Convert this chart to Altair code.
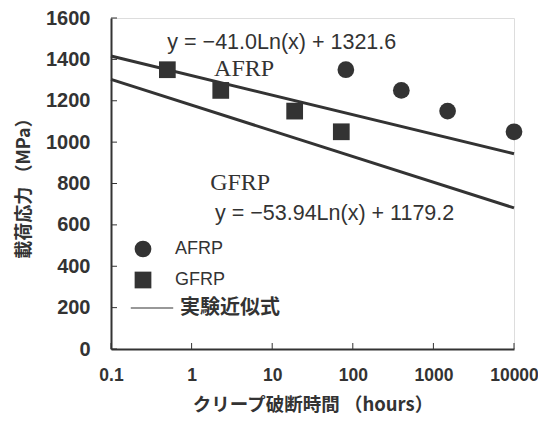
import altair as alt
import pandas as pd

# Data
afrp_hours = [82, 400, 1500, 10000]
afrp_stress = [1350, 1250, 1150, 1050]
gfrp_hours = [0.5, 2.3, 19, 72]
gfrp_stress = [1350, 1250, 1150, 1050]

line_hours = [0.1, 10000]
afrp_fit = [1416, 944]
gfrp_fit = [1303, 682]

x_ticks = [0.1, 1, 10, 100, 1000, 10000]
y_ticks = [0, 200, 400, 600, 800, 1000, 1200, 1400, 1600]

INK = "#333333"

pts = pd.DataFrame({
    "hours": afrp_hours + gfrp_hours,
    "stress": afrp_stress + gfrp_stress,
    "series": ["AFRP"] * len(afrp_hours) + ["GFRP"] * len(gfrp_hours),
})
lines = pd.DataFrame({
    "hours": line_hours + line_hours,
    "stress": afrp_fit + gfrp_fit,
    "fit": ["AFRP"] * 2 + ["GFRP"] * 2,
    "legend": ["実験近似式"] * 4,
})

x_scale = alt.Scale(type="log", domain=[0.1, 10000], nice=False)
y_scale = alt.Scale(domain=[0, 1600], nice=False)

x_axis = alt.Axis(values=x_ticks, grid=False, tickSize=0, labelFontSize=17.5,
                  labelFont="Liberation Sans", labelFontWeight="bold", labelColor=INK,
                  labelPadding=17, labelExpr="datum.value < 1 ? '0.1' : format(datum.value, 'd')",
                  title="クリープ破断時間 （hours）", titleFont="Noto Sans CJK JP",
                  titleFontSize=18.5, titleFontWeight="bold", titleColor=INK, titlePadding=12,
                  domainColor=INK, domainWidth=2, labelFlush=False)
y_axis = alt.Axis(values=y_ticks, grid=False, tickSize=0, labelFontSize=20, format="d",
                  labelFont="Liberation Sans", labelFontWeight="bold", labelColor=INK,
                  labelPadding=21, title="載荷応力 （MPa）", titleFont="Noto Sans CJK JP",
                  titleFontSize=18, titleFontWeight="bold", titleColor=INK, titlePadding=12,
                  domainColor=INK, domainWidth=2, labelFlush=False)

base_x = alt.X("hours:Q", scale=x_scale, axis=x_axis)
base_y = alt.Y("stress:Q", scale=y_scale, axis=y_axis)

line_layer = alt.Chart(lines).mark_line(strokeWidth=3).encode(
    x=base_x, y=base_y, detail="fit:N",
    color=alt.Color("legend:N", scale=alt.Scale(range=[INK]),
                    legend=alt.Legend(title=None, orient="none", legendX=19, legendY=268,
                                      symbolType="stroke", symbolSize=1800, symbolStrokeWidth=1.2,
                                      labelFont="Noto Sans CJK JP", labelFontSize=20,
                                      labelFontWeight="bold", labelColor=INK, labelOffset=6)),
)

point_layer = alt.Chart(pts).mark_point(filled=True, size=280, opacity=1, color=INK).encode(
    x=alt.X("hours:Q", scale=x_scale),
    y=alt.Y("stress:Q", scale=y_scale),
    shape=alt.Shape("series:N", scale=alt.Scale(domain=["AFRP", "GFRP"], range=["circle", "square"]),
                    legend=alt.Legend(title=None, orient="none", legendX=23, legendY=222,
                                      symbolSize=280, symbolFillColor=INK, symbolStrokeWidth=0,
                                      symbolOpacity=1, rowPadding=13,
                                      labelFont="Liberation Sans", labelFontSize=18,
                                      labelColor=INK, labelOffset=23)),
)

# inward tick marks
ytick_df = pd.DataFrame({"stress": y_ticks})
xtick_df = pd.DataFrame({"hours": x_ticks})
ytick_layer = alt.Chart(ytick_df).mark_rule(color=INK, strokeWidth=1).encode(
    y=alt.Y("stress:Q", scale=y_scale), x=alt.value(0), x2=alt.value(6))
xtick_layer = alt.Chart(xtick_df).mark_rule(color=INK, strokeWidth=1).encode(
    x=alt.X("hours:Q", scale=x_scale), y=alt.value(331), y2=alt.value(325))

# annotations
eq_texts = ["y = −41.0Ln(x) + 1321.6", "y = −53.94Ln(x) + 1179.2"]
eq_hours = [0.5, 1.95]
eq_stress = [1478, 653]
name_texts = ["AFRP", "GFRP"]
name_hours = [1.9, 1.7]
name_stress = [1355, 802]

eq_layer = alt.Chart(pd.DataFrame({"hours": eq_hours, "stress": eq_stress, "t": eq_texts})).mark_text(
    align="left", baseline="middle", font="Liberation Sans", fontSize=21.5, color=INK
).encode(x=alt.X("hours:Q", scale=x_scale), y=alt.Y("stress:Q", scale=y_scale), text="t:N")
name_layer = alt.Chart(pd.DataFrame({"hours": name_hours, "stress": name_stress, "t": name_texts})).mark_text(
    align="left", baseline="middle", font="Liberation Serif", fontSize=24, color=INK
).encode(x=alt.X("hours:Q", scale=x_scale), y=alt.Y("stress:Q", scale=y_scale), text="t:N")

chart = alt.layer(line_layer, point_layer, ytick_layer, xtick_layer, eq_layer, name_layer).properties(
    width=403, height=331, autosize="none",
    padding={"left": 103, "top": 10, "right": 24, "bottom": 68},
).configure_view(stroke=INK, strokeWidth=1.5).configure(background="white")

chart.save("out.html", embed_options={"renderer": "svg", "actions": False})
